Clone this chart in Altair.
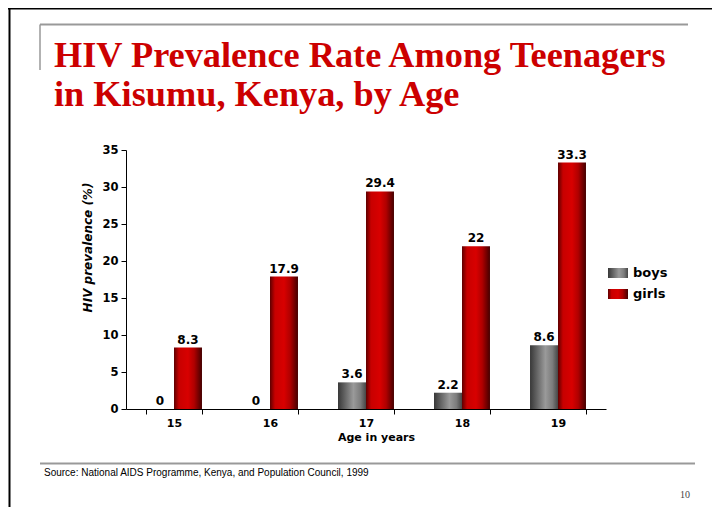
import altair as alt
import pandas as pd

# ---- data ----
ages = ["15", "16", "17", "18", "19"]
boys = [0, 0, 3.6, 2.2, 8.6]
girls = [8.3, 17.9, 29.4, 22, 33.3]
groups = ["boys", "girls"]
y_ticks = [0, 5, 10, 15, 20, 25, 30, 35]

title_lines = ["HIV Prevalence Rate Among Teenagers", "in Kisumu, Kenya, by Age"]
source_text = "Source: National AIDS Programme, Kenya, and Population Council, 1999"
page_no = "10"

rows = []
for a, b, g in zip(ages, boys, girls):
    rows.append({"age": a, "sex": "boys", "value": b, "label": f"{b:g}"})
    rows.append({"age": a, "sex": "girls", "value": g, "label": f"{g:g}"})
df = pd.DataFrame(rows)

# ---- styles ----
boys_grad = ("{gradient:'linear',x1:0,y1:0,x2:1,y2:0,stops:["
             "{offset:0,color:'#383838'},{offset:0.55,color:'#9a9a9a'},"
             "{offset:0.8,color:'#7c7c7c'},{offset:1,color:'#464646'}]}")
girls_grad = ("{gradient:'linear',x1:0,y1:0,x2:1,y2:0,stops:["
              "{offset:0,color:'#5e0000'},{offset:0.18,color:'#c80000'},"
              "{offset:0.5,color:'#d80000'},{offset:0.72,color:'#b00000'},"
              "{offset:1,color:'#440000'}]}")

W, H = 480, 259
LEFT, TOP = 118, 142

x_scale = alt.Scale(paddingInner=0.417, paddingOuter=0.2085)
y_scale = alt.Scale(domain=[0, 35], nice=False)

x_enc = alt.X("age:O", sort=ages, scale=x_scale,
              axis=alt.Axis(title="Age in years", labelAngle=0, tickBand="extent",
                            tickSize=5, labelPadding=3, titlePadding=3, titleX=250,
                            domainColor="black", tickColor="black"))
xo_enc = alt.XOffset("sex:N", sort=groups, scale=alt.Scale(paddingInner=0, paddingOuter=0))
y_enc = alt.Y("value:Q", scale=y_scale,
              axis=alt.Axis(title="HIV prevalence (%)", values=y_ticks, grid=False,
                            labelOverlap=False, tickSize=5, labelPadding=3,
                            titleFontStyle="italic", titleFontSize=12,
                            titleX=-39, titleY=97, titleAngle=270,
                            titleAlign="center", titleBaseline="middle",
                            domainColor="black", tickColor="black"))

bars = alt.Chart(df).mark_bar(strokeWidth=0).encode(
    x=x_enc, xOffset=xo_enc, y=y_enc,
    color=alt.Color("sex:N", sort=groups,
                    scale=alt.Scale(domain=groups,
                                    range=[alt.ExprRef(expr=boys_grad),
                                           alt.ExprRef(expr=girls_grad)]),
                    legend=alt.Legend(title=None, orient="none", legendX=482, legendY=113,
                                      symbolType="M-1,-0.5H1V0.5H-1Z", symbolSize=400,
                                      symbolStrokeWidth=0, labelFontSize=13,
                                      labelFont="DejaVu Sans", labelFontWeight="bold",
                                      labelColor="black", labelOffset=5, rowPadding=4)),
)

labels = alt.Chart(df).mark_text(baseline="bottom", dy=-1, fontSize=12,
                                 font="DejaVu Sans", fontWeight="bold",
                                 color="black").encode(
    x=x_enc, xOffset=xo_enc, y=y_enc, text="label:N")

one = alt.Data(values=[{"k": 1}])

def rule(x1, x2, y1, y2, color, sw):
    return alt.Chart(one).mark_rule(color=color, strokeWidth=sw).encode(
        x=alt.value(x1), x2=alt.value(x2), y=alt.value(y1), y2=alt.value(y2))

deco = [
    rule(-LEFT, 704 - LEFT, -TOP + 0.5, -TOP + 0.5, "black", 2),
    rule(-LEFT + 1.5, -LEFT + 1.5, -TOP, 499 - TOP, "black", 2),
    rule(-86, 562, -125.5, -125.5, "#999999", 2),
    rule(-86, -86, -125.5, -80, "#999999", 1.5),
    rule(-86, 569, 313.5, 313.5, "#999999", 2),
]

title = alt.Chart(one).mark_text(align="left", baseline="top", fontSize=36.3,
                                 font="Liberation Serif", fontWeight="bold",
                                 color="#CC0000", lineHeight=39).encode(
    x=alt.value(-72), y=alt.value(-112), text=alt.value(title_lines))

src = alt.Chart(one).mark_text(align="left", baseline="middle", fontSize=10,
                               font="Liberation Sans", color="black").encode(
    x=alt.value(-82), y=alt.value(323), text=alt.value(source_text))
pg = alt.Chart(one).mark_text(align="right", baseline="middle", fontSize=10,
                              font="Liberation Serif", color="#444444").encode(
    x=alt.value(564), y=alt.value(345), text=alt.value(page_no))

chart = alt.layer(*deco, title, bars, labels, src, pg).properties(
    width=W, height=H,
    autosize=alt.AutoSizeParams(type="none"),
    padding={"left": LEFT, "top": TOP, "right": 704 - LEFT - W, "bottom": 499 - TOP - H},
).configure_view(stroke=None).configure_axis(
    labelFont="DejaVu Sans", labelFontWeight="bold", labelColor="black",
    labelFontSize=11, titleFont="DejaVu Sans", titleFontWeight="bold",
    titleFontSize=11, titleColor="black",
).configure_axisY(labelFontSize=11.5)

chart.save("out.html", embed_options={"renderer": "svg", "actions": False})
